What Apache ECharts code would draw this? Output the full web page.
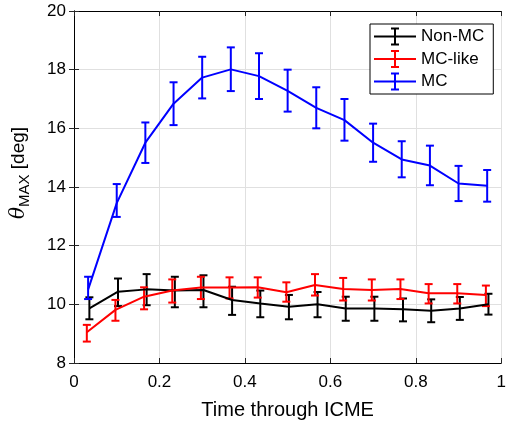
<!DOCTYPE html>
<html>
<head>
<meta charset="utf-8">
<script src="https://cdn.jsdelivr.net/npm/echarts@6/dist/echarts.min.js"></script>
<style>
html, body { margin: 0; padding: 0; background: #fff; }
#main { width: 509px; height: 426px; }
</style>
</head>
<body>
<div id="main"></div>
<script>
// bin centres (fraction of time through the ICME)
var timeBins = [0.033, 0.1, 0.167, 0.233, 0.3, 0.367, 0.433, 0.5, 0.567, 0.633, 0.7, 0.767, 0.833, 0.9, 0.967];

var nonMcMean = [9.86, 10.43, 10.51, 10.47, 10.49, 10.15, 10.03, 9.92, 10.0, 9.86, 9.86, 9.83, 9.78, 9.86, 10.0];
var nonMcLow  = [9.49, 9.94, 9.97, 9.90, 9.90, 9.64, 9.56, 9.49, 9.56, 9.44, 9.44, 9.42, 9.39, 9.47, 9.65];
var nonMcHigh = [10.24, 10.88, 11.03, 10.94, 10.99, 10.60, 10.47, 10.32, 10.42, 10.26, 10.26, 10.20, 10.17, 10.25, 10.36];

var mcLikeMean = [9.05, 9.81, 10.26, 10.47, 10.57, 10.57, 10.58, 10.41, 10.66, 10.52, 10.49, 10.52, 10.38, 10.38, 10.32];
var mcLikeLow  = [8.73, 9.44, 9.83, 10.06, 10.18, 10.20, 10.23, 10.09, 10.30, 10.13, 10.13, 10.18, 10.03, 10.03, 9.94];
var mcLikeHigh = [9.30, 10.15, 10.58, 10.85, 10.94, 10.92, 10.92, 10.75, 11.03, 10.90, 10.85, 10.85, 10.69, 10.69, 10.64];

var mcMean = [10.5, 13.45, 15.51, 16.84, 17.73, 18.01, 17.78, 17.28, 16.70, 16.28, 15.51, 14.94, 14.73, 14.12, 14.04];
var mcLow  = [10.18, 12.98, 14.82, 16.11, 17.02, 17.27, 17.00, 16.57, 16.00, 15.58, 14.86, 14.33, 14.06, 13.52, 13.50];
var mcHigh = [10.94, 14.10, 16.20, 17.57, 18.44, 18.76, 18.56, 18.00, 17.40, 17.00, 16.16, 15.56, 15.41, 14.72, 14.58];

var seriesNames = ['Non-MC', 'MC-like', 'MC'];
var seriesColors = ['#000000', '#ff0000', '#0000ff'];

var FONT = 'Liberation Sans, Arial, Helvetica, sans-serif';
// errorbar-style legend glyph (line with an I-beam)
var legendIcon = 'path://M0,8h42v2h-42z M20,0h2v18h-2z M17,0h8v2h-8z M17,16h8v2h-8z';

// small horizontal dodge, like the original figure
var dodge = [0.003, -0.003, 0];

function buildLine(name, mean, off) {
    return {
        type: 'line',
        name: name,
        data: timeBins.map(function (t, i) { return [t + off, mean[i]]; }),
        symbol: 'none',
        lineStyle: { width: 2 },
        z: 3
    };
}

function buildErr(name, low, high, off) {
    return {
        type: 'custom',
        name: name,
        data: timeBins.map(function (t, i) { return [t + off, low[i], high[i]]; }),
        encode: { x: 0, y: [1, 2] },
        renderItem: function (params, api) {
            var x = api.value(0);
            var lo = api.coord([x, api.value(1)]);
            var hi = api.coord([x, api.value(2)]);
            var c = api.visual('color');
            var w = 4;
            var st = { stroke: c, lineWidth: 2 };
            return {
                type: 'group',
                children: [
                    { type: 'line', shape: { x1: lo[0], y1: lo[1], x2: hi[0], y2: hi[1] }, style: st },
                    { type: 'line', shape: { x1: lo[0] - w, y1: lo[1], x2: lo[0] + w, y2: lo[1] }, style: st },
                    { type: 'line', shape: { x1: hi[0] - w, y1: hi[1], x2: hi[0] + w, y2: hi[1] }, style: st }
                ]
            };
        },
        z: 3
    };
}

var means = [nonMcMean, mcLikeMean, mcMean];
var lows = [nonMcLow, mcLikeLow, mcLow];
var highs = [nonMcHigh, mcLikeHigh, mcHigh];

var series = [];
for (var s = 0; s < 3; s++) {
    series.push(buildLine(seriesNames[s], means[s], dodge[s]));
    series.push(buildErr(seriesNames[s], lows[s], highs[s], dodge[s]));
}

var axisLineStyle = { lineStyle: { color: '#000', width: 1 } };
var tickStyle = { show: true, inside: true, length: 5, lineStyle: { color: '#262626' } };

var option = {
    animation: false,
    color: seriesColors,
    grid: { left: 74, right: 5, top: 11, bottom: 63, containLabel: false },
    legend: {
        data: seriesNames.map(function (n) { return { name: n, icon: legendIcon }; }),
        orient: 'vertical',
        left: 370, top: 24,
        itemWidth: 42, itemHeight: 18, itemGap: 4.5,
        padding: [3.5, 9, 3.5, 4],
        borderColor: '#000', borderWidth: 1,
        backgroundColor: '#fff',
        itemStyle: { borderWidth: 0 },
        textStyle: { fontFamily: FONT, fontSize: 17, color: '#000' }
    },
    xAxis: [{
        type: 'value', min: 0, max: 1, interval: 0.2,
        name: 'Time through ICME', nameLocation: 'middle', nameGap: 37,
        nameTextStyle: { fontFamily: FONT, fontSize: 20, color: '#000' },
        axisLine: axisLineStyle, axisTick: tickStyle,
        axisLabel: { fontFamily: FONT, fontSize: 17, color: '#000', margin: 11 },
        splitLine: { show: true, lineStyle: { color: '#e0e0e0', width: 1 } }
    }, {
        type: 'value', min: 0, max: 1, interval: 0.2, position: 'top',
        axisLine: axisLineStyle, axisTick: tickStyle,
        axisLabel: { show: false }, splitLine: { show: false }
    }],
    yAxis: [{
        type: 'value', min: 8, max: 20, interval: 2,
        name: '{th|θ}{sub|MAX} [deg]', nameLocation: 'middle', nameGap: 42,
        nameTextStyle: {
            fontFamily: FONT, fontSize: 19, color: '#000',
            padding: [0, 0, 0, 28],
            rich: {
                th: { fontFamily: 'DejaVu Serif, serif', fontStyle: 'italic', fontSize: 20, color: '#000' },
                sub: { fontFamily: FONT, fontSize: 15, color: '#000', verticalAlign: 'top', padding: [12, 0, 0, 0] }
            }
        },
        axisLine: axisLineStyle, axisTick: tickStyle,
        axisLabel: { fontFamily: FONT, fontSize: 17, color: '#000', margin: 8 },
        splitLine: { show: true, lineStyle: { color: '#e0e0e0', width: 1 } }
    }, {
        type: 'value', min: 8, max: 20, interval: 2, position: 'right',
        axisLine: axisLineStyle, axisTick: tickStyle,
        axisLabel: { show: false }, splitLine: { show: false }
    }],
    series: series
};

var chart = echarts.init(document.getElementById('main'));
chart.setOption(option);
</script>
</body>
</html>
